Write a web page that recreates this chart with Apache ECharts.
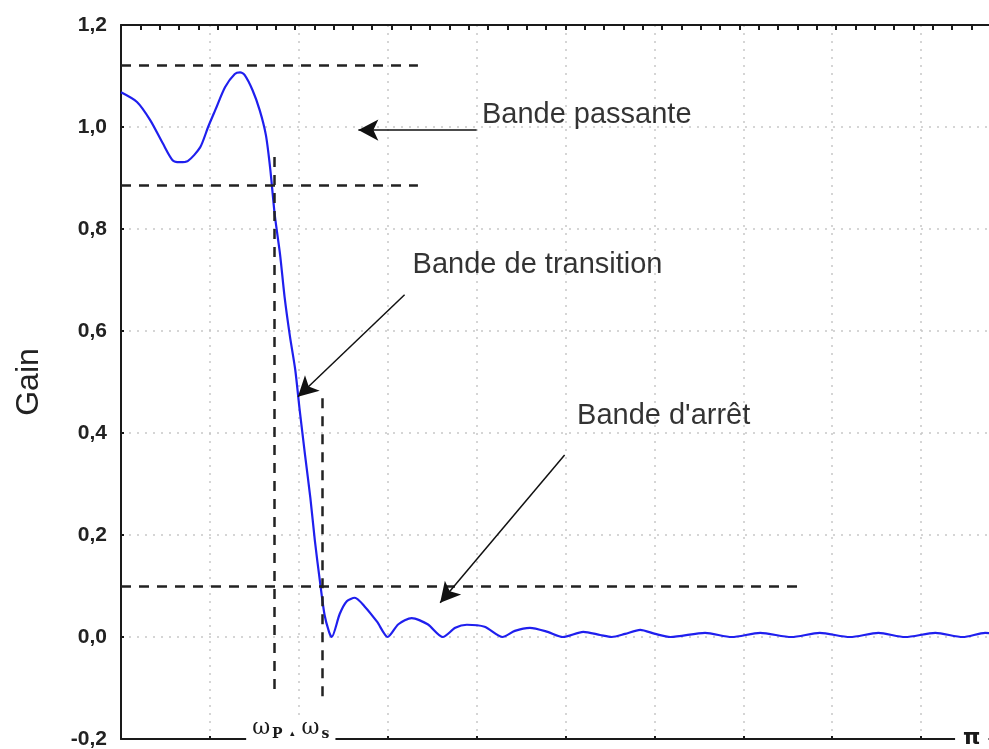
<!DOCTYPE html>
<html>
<head>
<meta charset="utf-8">
<script src="https://cdn.jsdelivr.net/npm/echarts@6/dist/echarts.min.js"></script>
<style>
  html, body { margin: 0; padding: 0; background: #fff; }
  #chart { width: 989px; height: 749px; }
</style>
</head>
<body>
<div id="chart"></div>
<script>
// frequency axis in grid units (0..10), gain on y
const freq = [0, 0.18, 0.33, 0.47, 0.58, 0.66, 0.75, 0.89, 0.98, 1.06, 1.17, 1.28, 1.34, 1.39, 1.48, 1.56, 1.63, 1.68, 1.73, 1.79, 1.84, 1.90, 1.96, 2.01, 2.07, 2.13, 2.18, 2.24, 2.29, 2.34, 2.37, 2.46, 2.54, 2.63, 2.74, 2.88, 3.00, 3.12, 3.27, 3.45, 3.62, 3.76, 3.89, 4.09, 4.29, 4.43, 4.60, 4.80, 4.97, 5.20, 5.39, 5.52, 5.67, 5.84, 6.01, 6.18, 6.57, 6.87, 7.19, 7.54, 7.86, 8.20, 8.52, 8.82, 9.16, 9.47, 9.72, 10];
const gain = [1.068, 1.049, 1.013, 0.968, 0.935, 0.931, 0.933, 0.96, 1.0, 1.033, 1.078, 1.104, 1.107, 1.102, 1.072, 1.033, 0.984, 0.916, 0.827, 0.749, 0.667, 0.590, 0.524, 0.445, 0.357, 0.273, 0.190, 0.106, 0.043, 0.01, 0.0, 0.045, 0.07, 0.077, 0.06, 0.03, 0.0, 0.025, 0.037, 0.025, 0.0, 0.018, 0.024, 0.02, 0.0, 0.012, 0.018, 0.01, 0.0, 0.01, 0.004, 0.0, 0.006, 0.014, 0.006, 0.0, 0.008, 0.0, 0.008, 0.0, 0.008, 0.0, 0.008, 0.0, 0.008, 0.0, 0.008, 0.002];

// horizontal tolerance lines: [gain, xEnd]
const hLimits = [[1.122, 3.34], [0.886, 3.34], [0.1, 7.66]];
// vertical edge lines: [freq, yFrom, yTo]
const vEdges = [[1.72, -0.102, 0.949], [2.26, -0.116, 0.473]];

const annoText = ['Bande passante', 'Bande de transition', "Bande d'arrêt"];
const annoPos = [[4.06, 1.024], [3.28, 0.729], [5.13, 0.433]];
// arrows: [start, tip]
const arrows = [
  [[4.0, 0.994], [2.67, 0.994]],
  [[3.19, 0.671], [1.99, 0.471]],
  [[4.99, 0.357], [3.59, 0.067]]
];

const xLabelPos = [1.91, 9.57];
const xLabelText = ['{w|ω}{s|P}{t|▴}{w|ω}{s|s}', '{pi|π}'];

const chart = echarts.init(document.getElementById('chart'));

const dashStyle = { color: '#222', width: 2.5, type: [10, 8] };
const dotGrid = { show: true, lineStyle: { color: '#c8c8c8', width: 1.5, type: [2, 6] } };

const markLines = [];
hLimits.forEach(([g, x1]) => {
  markLines.push([{ coord: [0, g] }, { coord: [x1, g] }]);
});
vEdges.forEach(([f, y0, y1]) => {
  markLines.push([{ coord: [f, y0] }, { coord: [f, y1] }]);
});

const arrowLines = arrows.map(([a, b]) => [{ coord: a }, { coord: b }]);

const textFont = "'Liberation Sans', Arial, sans-serif";

chart.setOption({
  animation: false,
  grid: { left: 121, right: -21, top: 25, bottom: 10, outerBoundsMode: 'none' },
  xAxis: [{
    type: 'value', min: 0, max: 10, interval: 1,
    axisLine: { onZero: false, lineStyle: { color: '#1a1a1a', width: 2 } },
    axisTick: { inside: true, length: 3, lineStyle: { color: '#1a1a1a', width: 2 } },
    splitLine: dotGrid,
    axisLabel: {
      customValues: xLabelPos,
      formatter: (v) => xLabelText[xLabelPos.indexOf(v)] || '',
      margin: -24,
      backgroundColor: '#fff',
      padding: [0, 6],
      color: '#1a1a1a',
      rich: {
        w: { fontFamily: 'DejaVu Serif', fontSize: 22, color: '#1a1a1a' },
        s: { fontFamily: 'DejaVu Serif', fontSize: 14, fontWeight: 'bold', color: '#1a1a1a', padding: [12, 0, 0, 2] },
        t: { fontSize: 9, color: '#1a1a1a', padding: [12, 7, 0, 7] },
        pi: { fontFamily: 'DejaVu Sans', fontWeight: 'bold', fontSize: 22, color: '#1a1a1a', padding: [12, 2, 0, 2] }
      }
    }
  }, {
    type: 'value', position: 'top', min: 0, max: 46, interval: 1,
    axisLine: { show: true, onZero: false, lineStyle: { color: '#1a1a1a', width: 2 } },
    axisTick: { show: true, inside: true, length: 5, lineStyle: { color: '#1a1a1a', width: 2 } },
    axisLabel: { show: false },
    splitLine: { show: false }
  }],
  yAxis: {
    type: 'value', min: -0.2, max: 1.2, interval: 0.2,
    name: 'Gain', nameLocation: 'middle', nameRotate: 90, nameGap: 76,
    nameTextStyle: { fontFamily: textFont, fontSize: 32, color: '#222' },
    axisLine: { show: true, lineStyle: { color: '#1a1a1a', width: 2 } },
    axisTick: { show: true, inside: true, length: 3, lineStyle: { color: '#1a1a1a', width: 2 } },
    splitLine: dotGrid,
    axisLabel: {
      margin: 14,
      fontFamily: textFont,
      fontSize: 21, fontWeight: 'bold', color: '#222',
      formatter: (v) => v.toFixed(1).replace('.', ',')
    }
  },
  series: [{
    type: 'line',
    data: freq.map((f, i) => [f, gain[i]]),
    smooth: 0.25,
    showSymbol: false,
    lineStyle: { color: '#1f1fee', width: 2.2 },
    markLine: {
      silent: true, symbol: ['none', 'none'], label: { show: false },
      lineStyle: dashStyle,
      data: markLines
    }
  }, {
    type: 'line',
    data: [],
    markLine: {
      silent: true, symbol: ['none', 'arrow'], symbolSize: [16, 20],
      label: { show: false },
      lineStyle: { color: '#111', width: 1.5, type: 'solid' },
      data: arrowLines
    }
  }, {
    type: 'scatter',
    symbolSize: 0,
    data: annoPos.map((p, i) => ({ value: p, name: annoText[i] })),
    label: {
      show: true, position: 'right', distance: 0,
      formatter: (p) => p.name,
      fontFamily: textFont,
      fontSize: 29, color: '#000'
    }
  }]
});
</script>
</body>
</html>
